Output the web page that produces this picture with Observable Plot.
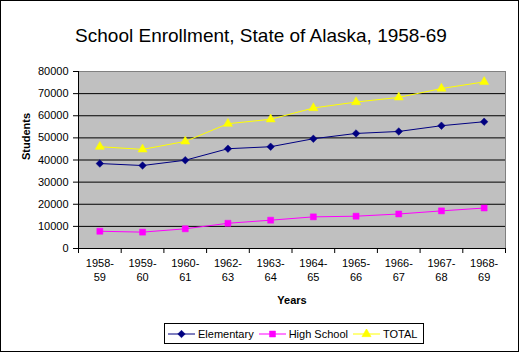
<!DOCTYPE html>
<html>
<head>
<meta charset="utf-8">
<script src="https://cdn.jsdelivr.net/npm/d3@7"></script>
<script src="https://cdn.jsdelivr.net/npm/@observablehq/plot@0.6"></script>
<style>
  html, body { margin: 0; padding: 0; background: #fff; }
  #wrap { position: relative; width: 520px; height: 353px; font-family: Arial, "Liberation Sans", sans-serif; }
  #legend { position: absolute; left: 164px; top: 323px; height: 19px; border: 1px solid #000; background: #fff;
            display: flex; align-items: center; font-size: 11px; color: #000; white-space: nowrap; padding: 0 6px 0 3px; }
  #legend .item { display: flex; align-items: center; margin-right: 5px; white-space: nowrap; }
  #legend .item:last-child { margin-right: 0; }
  #legend svg { display: block; margin-right: 3px; flex: none; }
</style>
</head>
<body>
<div id="wrap"></div>
<script>
const categories = ["1958-59","1959-60","1960-61","1962-63","1963-64","1964-65","1965-66","1966-67","1967-68","1968-69"];
const elementary = [38400, 37500, 39900, 45100, 46000, 49600, 52000, 52900, 55500, 57300];
const highSchool = [7800, 7400, 8900, 11400, 12800, 14300, 14600, 15600, 17000, 18300];
const total = [46000, 44800, 48400, 56400, 58400, 63500, 66200, 68300, 72300, 75300];
const seriesNames = ["Elementary", "High School", "TOTAL"];
const seriesColors = ["#000080", "#ff00ff", "#ffff00"];
const seriesSymbols = ["diamond2", "square", "triangle"];
const yTicks = [0, 10000, 20000, 30000, 40000, 50000, 60000, 70000, 80000];

const seriesValues = [elementary, highSchool, total];
const rows = [];
seriesNames.forEach((s, k) => seriesValues[k].forEach((v, i) => rows.push({series: s, i: i + 0.5, value: v})));

const font = 'Arial, "Liberation Sans", sans-serif';
const plot = Plot.plot({
  width: 520,
  height: 353,
  marginLeft: 78,
  marginRight: 15,
  marginTop: 71,
  marginBottom: 105,
  style: {fontFamily: font, fontSize: "11px", color: "#000", background: "transparent", overflow: "visible"},
  x: {type: "linear", domain: [0, categories.length], axis: null},
  y: {domain: [0, 80000], axis: null},
  color: {domain: seriesNames, range: seriesColors},
  symbol: {domain: seriesNames, range: seriesSymbols},
  marks: [
    Plot.frame({fill: "#c0c0c0", stroke: "#808080"}),
    Plot.ruleY(yTicks.slice(1, -1), {stroke: "#000"}),
    Plot.ruleX([0], {stroke: "#000"}),
    Plot.ruleY([0], {stroke: "#000"}),
    Plot.axisY({ticks: yTicks, tickSize: 5, tickPadding: 5, tickFormat: d => String(d), label: null, fontSize: 11}),
    Plot.axisX({ticks: d3.range(0, categories.length + 1), tickSize: 5, tickFormat: () => "", label: null}),
    Plot.axisX({ticks: d3.range(categories.length).map(i => i + 0.5), tickSize: 0, tickPadding: 8, lineHeight: 1.3,
      tickFormat: d => categories[Math.floor(d)].replace("-", "-\n"), label: null}),
    Plot.line(rows, {x: "i", y: "value", z: "series", stroke: "series", strokeWidth: 1}),
    Plot.dot(rows, {x: "i", y: "value", symbol: "series", fill: "series", stroke: "series", strokeWidth: 0.5, r: 3.4}),
    Plot.text(["School Enrollment, State of Alaska, 1958-69"], {frameAnchor: "top", dx: -31, dy: -43, fontSize: 19, fill: "#000"}),
    Plot.text(["Students"], {frameAnchor: "left", dx: -52, rotate: -90, fontWeight: "bold", fontSize: 11, fill: "#000"}),
    Plot.text(["Years"], {frameAnchor: "bottom", dy: 55, fontWeight: "bold", fontSize: 11, fill: "#000"})
  ]
});

const wrap = document.getElementById("wrap");
wrap.appendChild(plot);
// chart area border
d3.select(plot).append("rect")
  .attr("x", 0.5).attr("y", 0.5).attr("width", 518).attr("height", 351)
  .attr("fill", "none").attr("stroke", "#000").attr("stroke-width", 1);

// legend
const legend = document.createElement("div");
legend.id = "legend";
seriesNames.forEach((s, k) => {
  const item = document.createElement("div");
  item.className = "item";
  const sv = d3.create("svg").attr("width", 27).attr("height", 10);
  sv.append("line").attr("x1", 0).attr("x2", 27).attr("y1", 5).attr("y2", 5).attr("stroke", seriesColors[k]);
  const symMap = {diamond2: d3.symbolDiamond2, square: d3.symbolSquare, triangle: d3.symbolTriangle};
  sv.append("path").attr("transform", "translate(13.5,5)")
    .attr("d", d3.symbol(symMap[seriesSymbols[k]], 3.4 * 3.4 * Math.PI)())
    .attr("fill", seriesColors[k]).attr("stroke", seriesColors[k]).attr("stroke-width", 0.5);
  item.appendChild(sv.node());
  const label = document.createElement("span");
  label.textContent = s;
  item.appendChild(label);
  legend.appendChild(item);
});
wrap.appendChild(legend);
</script>
</body>
</html>
